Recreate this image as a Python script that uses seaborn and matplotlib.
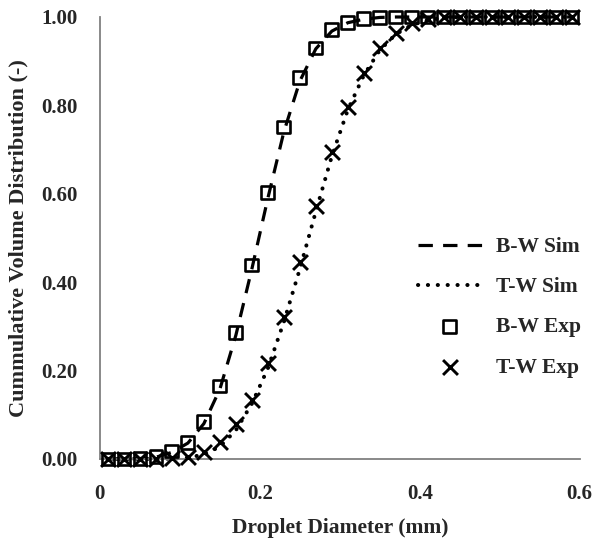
import matplotlib
matplotlib.use('Agg')
import matplotlib.pyplot as plt
import seaborn as sns
import pandas as pd
import numpy as np

# droplet diameter (mm)
diameter = [0.01, 0.03, 0.05, 0.07, 0.09, 0.11, 0.13, 0.15, 0.17, 0.19,
            0.21, 0.23, 0.25, 0.27, 0.29, 0.31, 0.33, 0.35, 0.37, 0.39,
            0.41, 0.43, 0.45, 0.47, 0.49, 0.51, 0.53, 0.55, 0.57, 0.59]

bw_sim = [0.0, 0.0, 0.001, 0.004, 0.015, 0.036, 0.080, 0.158, 0.280, 0.430,
          0.590, 0.740, 0.855, 0.928, 0.968, 0.987, 0.995, 0.999, 1.0, 1.0,
          1.0, 1.0, 1.0, 1.0, 1.0, 1.0, 1.0, 1.0, 1.0, 1.0]
tw_sim = [0.0, 0.0, 0.0, 0.0, 0.001, 0.003, 0.010, 0.028, 0.065, 0.125,
          0.205, 0.310, 0.430, 0.560, 0.685, 0.790, 0.868, 0.925, 0.961, 0.982,
          0.993, 0.998, 1.0, 1.0, 1.0, 1.0, 1.0, 1.0, 1.0, 1.0]
bw_exp = [0.0, 0.0, 0.001, 0.005, 0.018, 0.038, 0.084, 0.165, 0.287, 0.439,
          0.602, 0.751, 0.864, 0.930, 0.971, 0.987, 0.996, 0.999, 1.0, 1.0,
          1.0, 1.0, 1.0, 1.0, 1.0, 1.0, 1.0, 1.0, 1.0, 1.0]
tw_exp = [0.0, 0.0, 0.0, 0.001, 0.002, 0.005, 0.016, 0.038, 0.079, 0.133,
          0.217, 0.321, 0.446, 0.572, 0.695, 0.797, 0.873, 0.930, 0.964, 0.986,
          0.995, 0.999, 1.0, 1.0, 1.0, 1.0, 1.0, 1.0, 1.0, 1.0]

df = pd.DataFrame({'d': diameter, 'bw_sim': bw_sim, 'tw_sim': tw_sim,
                   'bw_exp': bw_exp, 'tw_exp': tw_exp})

sns.set_style('white')
plt.rcParams['font.family'] = ['Liberation Serif', 'DejaVu Serif']
plt.rcParams['font.weight'] = 'bold'

fig = plt.figure(figsize=(6.02, 5.41), dpi=100)
ax = fig.add_axes([0.166, 0.1516, 0.797, 0.817])

# simulation curves
sns.lineplot(data=df, x='d', y='bw_sim', ax=ax, color='black', linewidth=2.3,
             label='B-W Sim', estimator=None, clip_on=False)
ax.lines[-1].set_dashes([4.5, 3.2])
sns.lineplot(data=df, x='d', y='tw_sim', ax=ax, color='black', linewidth=2.9,
             label='T-W Sim', estimator=None, clip_on=False)
ax.lines[-1].set_linestyle((0, (0.05, 2.4)))
ax.lines[-1].set_dash_capstyle('round')

# experimental points
sns.scatterplot(data=df, x='d', y='bw_exp', ax=ax, marker='s', s=85,
                facecolor='none', edgecolor='black', linewidth=1.9,
                label='B-W Exp', clip_on=False, zorder=3)
sns.scatterplot(data=df, x='d', y='tw_exp', ax=ax, marker='x', s=115,
                color='black', linewidth=2.1, label='T-W Exp',
                clip_on=False, zorder=3)

ax.set_xlim(0, 0.6)
ax.set_ylim(0, 1.0)
ax.set_xticks([0, 0.2, 0.4, 0.6])
ax.set_xticklabels(['0', '0.2', '0.4', '0.6'])
ax.set_yticks([0, 0.2, 0.4, 0.6, 0.8, 1.0])
ax.set_yticklabels(['0.00', '0.20', '0.40', '0.60', '0.80', '1.00'])
ax.tick_params(axis='both', direction='out', length=6, width=1.2,
               color='#808080', labelsize=15, pad=12)
ax.tick_params(axis='y', pad=10)

for side in ['top', 'right']:
    ax.spines[side].set_visible(False)
for side in ['left', 'bottom']:
    ax.spines[side].set_color('#808080')
    ax.spines[side].set_linewidth(1.3)

ax.set_xlabel('Droplet Diameter (mm)', fontsize=15.5, fontweight='bold', labelpad=10)
ax.set_ylabel('Cummulative Volume Distribution (-)', fontsize=16,
              fontweight='bold', labelpad=9)

handles, labels = ax.get_legend_handles_labels()
ax.legend(handles, labels, frameon=False, loc='center left',
          bbox_to_anchor=(0.662, 0.343), borderaxespad=0, borderpad=0,
          handlelength=3.0, handletextpad=0.65, labelspacing=0.93,
          prop={'size': 15.5, 'weight': 'bold'})

plt.savefig('out.png', dpi=100)
